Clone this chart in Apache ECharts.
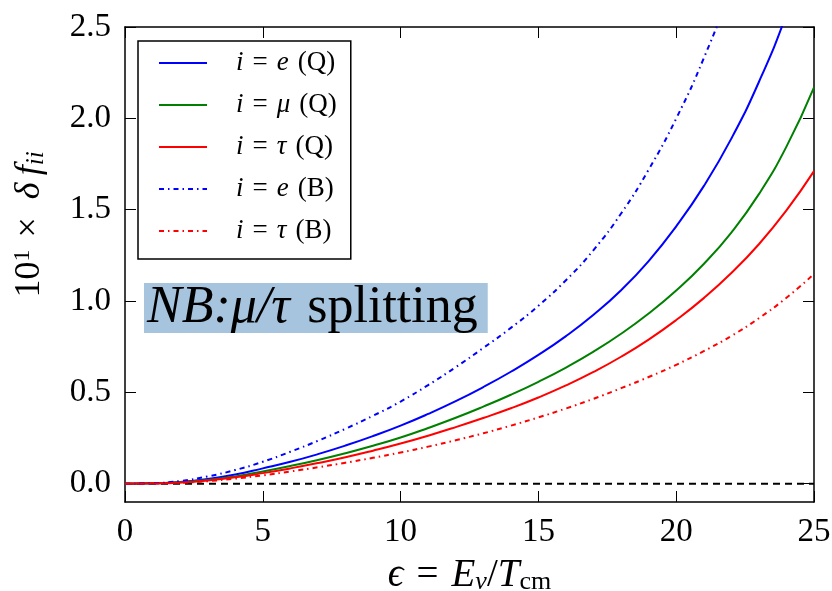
<!DOCTYPE html>
<html>
<head>
<meta charset="utf-8">
<script src="https://cdn.jsdelivr.net/npm/echarts@6/dist/echarts.min.js"></script>
<style>
    html, body { margin: 0; padding: 0; background: #fff; }
    #chart { width: 832px; height: 591px; }
</style>
</head>
<body>
<div id="chart"></div>
<script>
// 横轴 ε = E_ν / T_cm
var eps = [0,1,2,3,4,5,6,7,8,9,10,11,12,13,14,15,16,17,18,19,20,21,22,23,24,25];

// 10 × δf_ii，从图上读出的估计值
var eQ   = [0,0.002,0.010,0.026,0.050,0.084,0.120,0.162,0.209,0.261,0.318,0.382,0.452,0.529,0.613,0.705,0.808,0.925,1.059,1.219,1.409,1.629,1.889,2.199,2.569,3.019];
var muQ  = [0,0.002,0.008,0.020,0.040,0.067,0.097,0.130,0.167,0.208,0.253,0.305,0.361,0.422,0.487,0.558,0.636,0.723,0.821,0.932,1.058,1.203,1.375,1.585,1.845,2.170];
var tauQ = [0,0.002,0.007,0.018,0.035,0.058,0.084,0.113,0.145,0.181,0.220,0.263,0.310,0.360,0.413,0.472,0.538,0.612,0.695,0.789,0.896,1.016,1.153,1.311,1.496,1.711];
var eB   = [0,0.003,0.015,0.040,0.075,0.120,0.175,0.235,0.301,0.372,0.450,0.540,0.638,0.743,0.853,0.974,1.114,1.279,1.479,1.719,1.999,2.329,2.719,3.179];
var tauB = [0,0.001,0.005,0.014,0.028,0.046,0.067,0.090,0.115,0.142,0.171,0.203,0.238,0.276,0.318,0.363,0.412,0.465,0.523,0.584,0.651,0.726,0.809,0.906,1.018,1.148];
var zeroLine = [0, 0];
var zeroX = [0, 25];

var names = ['i = e (Q)', 'i = μ (Q)', 'i = τ (Q)', 'i = e (B)', 'i = τ (B)'];
var EQ = '\u2004=\u2004';
var legendRich = [
    '{it|i}' + EQ + '{it|e}\u2004(Q)',
    '{it|i}' + EQ + '{it|μ}\u2004(Q)',
    '{it|i}' + EQ + '{it|τ}\u2004(Q)',
    '{it|i}' + EQ + '{it|e}\u2004(B)',
    '{it|i}' + EQ + '{it|τ}\u2004(B)'
];
var yTicks = [0, 0.5, 1.0, 1.5, 2.0, 2.5];

var FONT = 'Liberation Serif';

function pairs(xs, ys) {
    var out = [];
    for (var i = 0; i < ys.length; i++) {
        out.push([xs[i], ys[i]]);
    }
    return out;
}

var dashDot = [5, 4, 1.5, 4];

function lineSeries(name, ys, color, type) {
    return {
        name: name,
        type: 'line',
        data: pairs(eps, ys),
        symbol: 'none',
        smooth: 0.5,
        clip: true,
        lineStyle: { color: color, width: 2, type: type },
        itemStyle: { color: color },
        z: 3
    };
}

var myChart = echarts.init(document.getElementById('chart'));

var option = {
    animation: false,
    backgroundColor: '#fff',
    grid: { left: 125, right: 18, top: 27, bottom: 89, outerBoundsMode: 'none', containLabel: false },
    legend: {
        orient: 'vertical',
        left: 138,
        top: 41,
        data: names,
        itemWidth: 48,
        itemHeight: 14,
        itemGap: 12,
        padding: [7, 14, 13, 20],
        borderColor: '#000',
        borderWidth: 1.5,
        backgroundColor: '#fff',
        itemStyle: { opacity: 0 },
        formatter: function (name) {
            return legendRich[names.indexOf(name)];
        },
        textStyle: {
            fontFamily: FONT,
            fontSize: 27,
            color: '#000',
            lineHeight: 30,
            padding: [0, 0, 0, 24],
            rich: {
                it: { fontFamily: FONT, fontStyle: 'italic', fontSize: 27, lineHeight: 30 }
            }
        }
    },
    xAxis: [{
        type: 'value',
        min: 0,
        max: 25,
        interval: 5,
        name: '{it|ϵ}' + EQ + '{it|E}{sub|ν}/{it|T}{sub2|cm}',
        nameLocation: 'middle',
        nameGap: 55,
        nameTextStyle: {
            fontFamily: FONT,
            fontSize: 39,
            color: '#000',
            lineHeight: 38,
            rich: {
                it: { fontFamily: FONT, fontStyle: 'italic', fontSize: 39, lineHeight: 38 },
                sub: { fontFamily: FONT, fontStyle: 'italic', fontSize: 26, lineHeight: 8, verticalAlign: 'bottom' },
                sub2: { fontFamily: FONT, fontSize: 26, lineHeight: 8, verticalAlign: 'bottom' }
            }
        },
        axisLine: { onZero: false, lineStyle: { color: '#000', width: 1.5 } },
        axisTick: { inside: true, length: 11, lineStyle: { color: '#000', width: 1 } },
        axisLabel: { margin: 14, fontFamily: FONT, fontSize: 33, color: '#000' },
        splitLine: { show: false }
    }, {
        type: 'value',
        position: 'top',
        min: 0,
        max: 25,
        interval: 5,
        axisLine: { onZero: false, lineStyle: { color: '#000', width: 1.5 } },
        axisTick: { inside: true, length: 11, lineStyle: { color: '#000', width: 1 } },
        axisLabel: { show: false },
        splitLine: { show: false }
    }],
    yAxis: [{
        type: 'value',
        min: -0.1,
        max: 2.5,
        name: '10{sup|1}\u2004×\u2002{it|δ}\u2009{it|f}{sub|ii}',
        nameLocation: 'middle',
        nameGap: 76,
        nameTextStyle: {
            fontFamily: FONT,
            fontSize: 36,
            color: '#000',
            lineHeight: 38,
            padding: [0, 0, 0, 80],
            rich: {
                it: { fontFamily: FONT, fontStyle: 'italic', fontSize: 36, lineHeight: 38 },
                sup: { fontFamily: FONT, fontSize: 24, lineHeight: 12, verticalAlign: 'top' },
                sub: { fontFamily: FONT, fontStyle: 'italic', fontSize: 25, lineHeight: 8, verticalAlign: 'bottom' }
            }
        },
        axisLine: { onZero: false, lineStyle: { color: '#000', width: 1.5 } },
        axisTick: { inside: true, length: 11, customValues: yTicks, lineStyle: { color: '#000', width: 1 } },
        axisLabel: {
            margin: 14,
            customValues: yTicks,
            fontFamily: FONT,
            fontSize: 33,
            color: '#000',
            formatter: function (v) { return v.toFixed(1); }
        },
        splitLine: { show: false }
    }, {
        type: 'value',
        position: 'right',
        min: -0.1,
        max: 2.5,
        axisLine: { onZero: false, lineStyle: { color: '#000', width: 1.5 } },
        axisTick: { inside: true, length: 11, customValues: yTicks, lineStyle: { color: '#000', width: 1 } },
        axisLabel: { show: false, customValues: yTicks },
        splitLine: { show: false }
    }],
    graphic: [{
        type: 'text',
        left: 144,
        top: 282,
        z: 10,
        style: {
            text: '{it|NB:μ/τ}\u2004splitting',
            fontFamily: FONT,
            fontSize: 52,
            lineHeight: 44,
            fill: '#000',
            backgroundColor: '#a6c4dd',
            padding: [3, 10, 3, 3],
            rich: {
                it: { fontFamily: FONT, fontStyle: 'italic', fontSize: 52, lineHeight: 44 }
            }
        }
    }],
    series: [
        lineSeries(names[0], eQ, '#0000ff', 'solid'),
        lineSeries(names[1], muQ, '#008000', 'solid'),
        lineSeries(names[2], tauQ, '#ff0000', 'solid'),
        lineSeries(names[3], eB, '#0000ff', dashDot),
        lineSeries(names[4], tauB, '#ff0000', dashDot),
        {
            name: 'zero',
            type: 'line',
            data: pairs(zeroX, zeroLine),
            symbol: 'none',
            lineStyle: { color: '#000', width: 2, type: [7, 5] },
            z: 2
        }
    ]
};

myChart.setOption(option);
</script>
</body>
</html>
